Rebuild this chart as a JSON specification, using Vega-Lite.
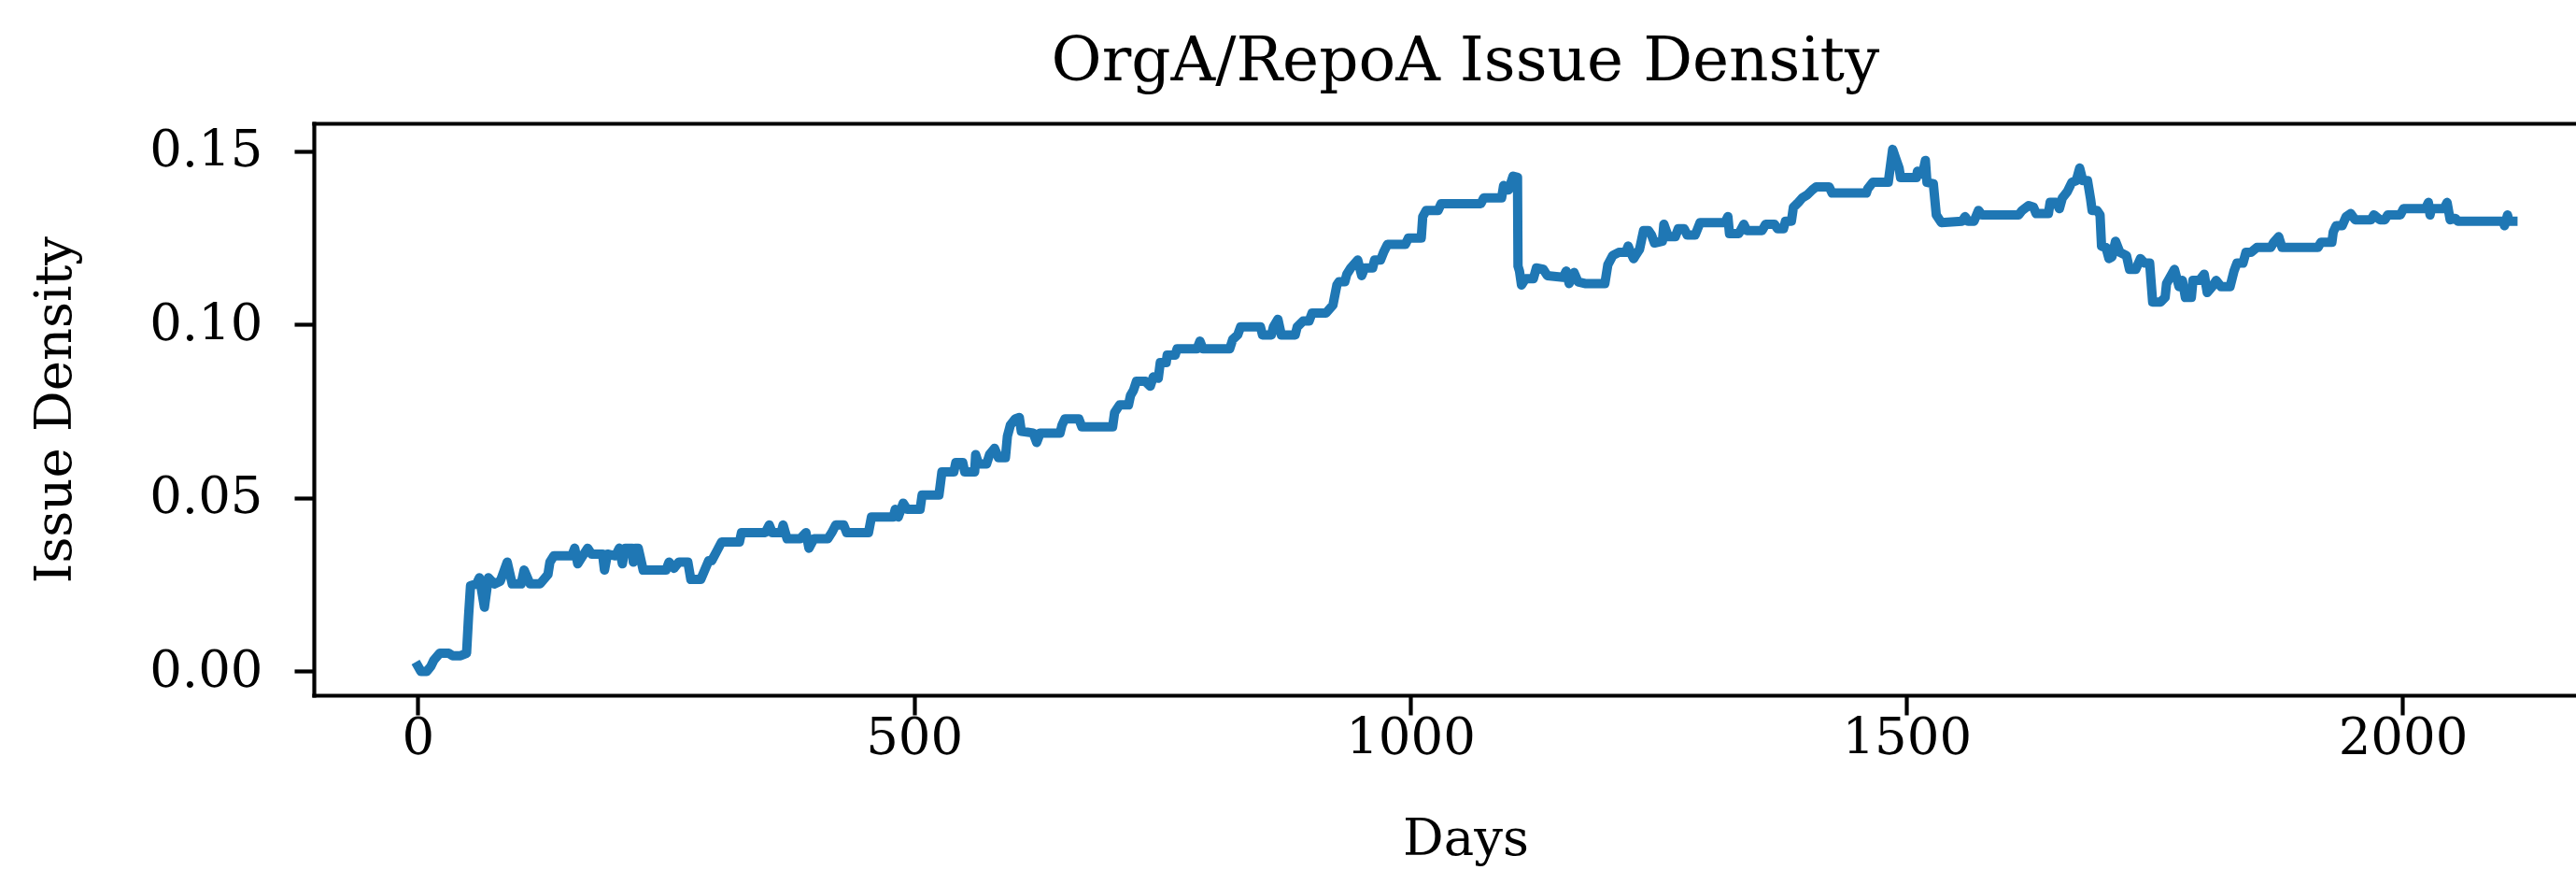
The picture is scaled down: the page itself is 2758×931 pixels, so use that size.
{
  "$schema": "https://vega.github.io/schema/vega-lite/v6.json",
  "autosize": "none",
  "padding": {"left": 336, "top": 132, "right": 0, "bottom": 187},
  "width": 2422,
  "height": 612,
  "background": "white",
  "config": {
    "view": {"stroke": null},
    "font": "DejaVu Serif",
    "axis": {"grid": false, "domainColor": "black", "tickColor": "black", "labelColor": "black", "titleColor": "black", "domainWidth": 4.2, "tickWidth": 4.2, "tickSize": 21, "labelFont": "DejaVu Serif", "titleFont": "DejaVu Serif", "labelFontSize": 54.5, "titleFontSize": 54.5, "titleFontWeight": "normal", "domainCap": "square"}
  },
  "title": {"text": "OrgA/RepoA Issue Density", "font": "DejaVu Serif", "fontSize": 66, "fontWeight": "normal", "color": "black", "anchor": "middle", "dx": 22, "dy": 62, "baseline": "alphabetic", "offset": 42},
  "datasets": {
    "density": [
      {"d":0,"v":0.0015},{"d":3,"v":0.0},{"d":9,"v":0.0},{"d":13,"v":0.0014},{"d":16,"v":0.0032},{"d":22,"v":0.0052},{"d":31,"v":0.0052},{"d":35,"v":0.0045},{"d":43,"v":0.0045},{"d":49,"v":0.0052},{"d":51,"v":0.0158},{"d":53,"v":0.0247},{"d":59,"v":0.0252},{"d":62,"v":0.027},{"d":67,"v":0.0185},{"d":71,"v":0.027},{"d":77,"v":0.0252},{"d":83,"v":0.026},{"d":90,"v":0.0315},{"d":95,"v":0.0252},{"d":104,"v":0.0252},{"d":107,"v":0.0292},{"d":113,"v":0.0252},{"d":123,"v":0.0252},{"d":131,"v":0.0279},{"d":133,"v":0.0315},{"d":137,"v":0.0333},{"d":155,"v":0.0333},{"d":158,"v":0.0355},{"d":161,"v":0.031},{"d":166,"v":0.0333},{"d":171,"v":0.0355},{"d":175,"v":0.0338},{"d":186,"v":0.0338},{"d":188,"v":0.0292},{"d":191,"v":0.0338},{"d":199,"v":0.0333},{"d":203,"v":0.0355},{"d":206,"v":0.031},{"d":209,"v":0.0355},{"d":216,"v":0.0355},{"d":217,"v":0.0315},{"d":219,"v":0.0355},{"d":222,"v":0.0355},{"d":227,"v":0.0292},{"d":250,"v":0.0292},{"d":253,"v":0.0315},{"d":258,"v":0.0297},{"d":263,"v":0.0315},{"d":272,"v":0.0315},{"d":275,"v":0.0265},{"d":285,"v":0.0265},{"d":289,"v":0.0292},{"d":293,"v":0.0319},{"d":296,"v":0.0319},{"d":300,"v":0.034},{"d":306,"v":0.0373},{"d":324,"v":0.0373},{"d":326,"v":0.04},{"d":350,"v":0.04},{"d":354,"v":0.0422},{"d":357,"v":0.04},{"d":366,"v":0.04},{"d":368,"v":0.0422},{"d":372,"v":0.0382},{"d":385,"v":0.0382},{"d":391,"v":0.04},{"d":394,"v":0.0355},{"d":399,"v":0.0382},{"d":413,"v":0.0382},{"d":417,"v":0.04},{"d":421,"v":0.0422},{"d":429,"v":0.0422},{"d":432,"v":0.04},{"d":454,"v":0.04},{"d":457,"v":0.0445},{"d":479,"v":0.0445},{"d":481,"v":0.0467},{"d":484,"v":0.0445},{"d":489,"v":0.0485},{"d":493,"v":0.0467},{"d":506,"v":0.0467},{"d":508,"v":0.0508},{"d":525,"v":0.0508},{"d":528,"v":0.0575},{"d":540,"v":0.0575},{"d":542,"v":0.0602},{"d":549,"v":0.0602},{"d":551,"v":0.0575},{"d":561,"v":0.0575},{"d":562,"v":0.0625},{"d":565,"v":0.0598},{"d":573,"v":0.0598},{"d":576,"v":0.0625},{"d":581,"v":0.0643},{"d":585,"v":0.0616},{"d":592,"v":0.0616},{"d":594,"v":0.0678},{"d":597,"v":0.071},{"d":602,"v":0.0728},{"d":606,"v":0.0732},{"d":608,"v":0.0692},{"d":620,"v":0.0687},{"d":623.5,"v":0.066},{"d":627,"v":0.0687},{"d":647,"v":0.0687},{"d":649,"v":0.071},{"d":652,"v":0.0728},{"d":666,"v":0.0728},{"d":669,"v":0.0705},{"d":700,"v":0.0705},{"d":702,"v":0.0746},{"d":707,"v":0.0768},{"d":716,"v":0.0768},{"d":718,"v":0.0795},{"d":721,"v":0.081},{"d":724,"v":0.0836},{"d":733,"v":0.0836},{"d":738,"v":0.0822},{"d":741,"v":0.0849},{"d":746,"v":0.0845},{"d":748,"v":0.089},{"d":754,"v":0.089},{"d":755,"v":0.0912},{"d":763,"v":0.0912},{"d":765,"v":0.093},{"d":785,"v":0.093},{"d":788,"v":0.0952},{"d":791,"v":0.093},{"d":818,"v":0.093},{"d":821,"v":0.0957},{"d":826,"v":0.097},{"d":829,"v":0.0993},{"d":849,"v":0.0993},{"d":851,"v":0.097},{"d":860,"v":0.097},{"d":862,"v":0.0993},{"d":866.6,"v":0.1015},{"d":870,"v":0.097},{"d":884,"v":0.097},{"d":886,"v":0.0993},{"d":892,"v":0.101},{"d":898,"v":0.101},{"d":901,"v":0.1033},{"d":915,"v":0.1033},{"d":922,"v":0.1056},{"d":926,"v":0.1114},{"d":928,"v":0.1123},{"d":934,"v":0.1123},{"d":936,"v":0.1145},{"d":940,"v":0.1163},{"d":947,"v":0.1186},{"d":951,"v":0.1141},{"d":954,"v":0.1163},{"d":962,"v":0.1163},{"d":964,"v":0.1186},{"d":970,"v":0.1186},{"d":973,"v":0.1208},{"d":977,"v":0.1231},{"d":995,"v":0.1231},{"d":998,"v":0.1249},{"d":1011,"v":0.1249},{"d":1012.5,"v":0.1311},{"d":1016,"v":0.1329},{"d":1028,"v":0.1329},{"d":1031,"v":0.1348},{"d":1071,"v":0.1348},{"d":1074,"v":0.1365},{"d":1092,"v":0.1365},{"d":1094,"v":0.1401},{"d":1099,"v":0.1388},{"d":1103.5,"v":0.1428},{"d":1108,"v":0.1424},{"d":1108.5,"v":0.1168},{"d":1110,"v":0.1154},{"d":1112,"v":0.1114},{"d":1116,"v":0.1132},{"d":1124,"v":0.1132},{"d":1127,"v":0.1163},{"d":1134,"v":0.1159},{"d":1138,"v":0.1141},{"d":1154,"v":0.1136},{"d":1157,"v":0.1154},{"d":1160,"v":0.1118},{"d":1165,"v":0.115},{"d":1169,"v":0.1123},{"d":1176,"v":0.1118},{"d":1196,"v":0.1118},{"d":1199,"v":0.1172},{"d":1204,"v":0.1199},{"d":1210,"v":0.1208},{"d":1217,"v":0.1208},{"d":1219.5,"v":0.1226},{"d":1222,"v":0.1208},{"d":1225,"v":0.119},{"d":1227,"v":0.1199},{"d":1231,"v":0.1217},{"d":1235,"v":0.1271},{"d":1240,"v":0.1271},{"d":1243,"v":0.1258},{"d":1246,"v":0.1235},{"d":1254,"v":0.124},{"d":1255.5,"v":0.1289},{"d":1260,"v":0.1253},{"d":1267,"v":0.1253},{"d":1270,"v":0.1276},{"d":1276,"v":0.1276},{"d":1279,"v":0.1258},{"d":1287,"v":0.1258},{"d":1292,"v":0.1294},{"d":1317,"v":0.1294},{"d":1320,"v":0.1311},{"d":1321.6,"v":0.1262},{"d":1331,"v":0.1262},{"d":1336,"v":0.1289},{"d":1339,"v":0.1271},{"d":1354.5,"v":0.1271},{"d":1358,"v":0.1289},{"d":1367,"v":0.1289},{"d":1370,"v":0.1276},{"d":1376,"v":0.1276},{"d":1378,"v":0.1298},{"d":1384,"v":0.1298},{"d":1386,"v":0.1338},{"d":1391,"v":0.1352},{"d":1395,"v":0.1365},{"d":1400,"v":0.1374},{"d":1405,"v":0.1388},{"d":1409,"v":0.1397},{"d":1422,"v":0.1397},{"d":1425,"v":0.1379},{"d":1459.5,"v":0.1379},{"d":1461,"v":0.1392},{"d":1466,"v":0.141},{"d":1481.6,"v":0.141},{"d":1486,"v":0.1505},{"d":1492.5,"v":0.1451},{"d":1494,"v":0.1424},{"d":1510,"v":0.1424},{"d":1511,"v":0.1442},{"d":1516,"v":0.1433},{"d":1519,"v":0.1473},{"d":1520.6,"v":0.141},{"d":1527,"v":0.1406},{"d":1530,"v":0.1316},{"d":1535,"v":0.1294},{"d":1556,"v":0.1298},{"d":1559,"v":0.1311},{"d":1562,"v":0.1298},{"d":1568,"v":0.1298},{"d":1572.5,"v":0.1329},{"d":1576,"v":0.1316},{"d":1613,"v":0.1316},{"d":1616.5,"v":0.1329},{"d":1623,"v":0.1343},{"d":1628,"v":0.1338},{"d":1630.6,"v":0.132},{"d":1643,"v":0.132},{"d":1644.7,"v":0.1352},{"d":1651,"v":0.1352},{"d":1654,"v":0.1334},{"d":1657,"v":0.1365},{"d":1662,"v":0.1383},{"d":1666.6,"v":0.141},{"d":1671,"v":0.1415},{"d":1674.5,"v":0.1451},{"d":1677.6,"v":0.1415},{"d":1682.4,"v":0.1415},{"d":1685.5,"v":0.1361},{"d":1687,"v":0.1329},{"d":1692,"v":0.1329},{"d":1695,"v":0.1316},{"d":1696.5,"v":0.1226},{"d":1701,"v":0.1222},{"d":1704,"v":0.119},{"d":1707,"v":0.1195},{"d":1710.6,"v":0.124},{"d":1715,"v":0.1208},{"d":1721.6,"v":0.1199},{"d":1724.7,"v":0.1159},{"d":1731,"v":0.1159},{"d":1735.7,"v":0.119},{"d":1740,"v":0.1177},{"d":1745,"v":0.1177},{"d":1748,"v":0.1065},{"d":1756,"v":0.1065},{"d":1760.6,"v":0.1078},{"d":1762,"v":0.1118},{"d":1770,"v":0.1159},{"d":1774.6,"v":0.1109},{"d":1778,"v":0.1127},{"d":1781,"v":0.1078},{"d":1787,"v":0.1078},{"d":1788.6,"v":0.1127},{"d":1795,"v":0.1127},{"d":1800,"v":0.1145},{"d":1803,"v":0.1092},{"d":1808,"v":0.1109},{"d":1812,"v":0.1127},{"d":1817,"v":0.1109},{"d":1826,"v":0.1109},{"d":1830,"v":0.1154},{"d":1833,"v":0.1177},{"d":1839,"v":0.1177},{"d":1842,"v":0.1208},{"d":1847,"v":0.1208},{"d":1853,"v":0.1222},{"d":1867,"v":0.1222},{"d":1870,"v":0.1237},{"d":1875,"v":0.1253},{"d":1878.4,"v":0.1222},{"d":1914.5,"v":0.1222},{"d":1917.6,"v":0.1237},{"d":1928.6,"v":0.1237},{"d":1930,"v":0.1267},{"d":1933,"v":0.1285},{"d":1939,"v":0.1285},{"d":1943,"v":0.1311},{"d":1947.5,"v":0.132},{"d":1952,"v":0.1302},{"d":1968,"v":0.1302},{"d":1971,"v":0.1316},{"d":1977,"v":0.1302},{"d":1982,"v":0.1302},{"d":1985,"v":0.1316},{"d":1997.6,"v":0.1316},{"d":2000.8,"v":0.1334},{"d":2022.9,"v":0.1334},{"d":2025.9,"v":0.1352},{"d":2027.5,"v":0.1316},{"d":2029,"v":0.1334},{"d":2041.6,"v":0.1334},{"d":2044.7,"v":0.1352},{"d":2047.8,"v":0.1302},{"d":2053,"v":0.1306},{"d":2055.5,"v":0.1298},{"d":2101,"v":0.1298},{"d":2102.6,"v":0.1285},{"d":2105.6,"v":0.1316},{"d":2107,"v":0.1298},{"d":2111,"v":0.1298}
    ]
  },
  "data": {"name": "density"},
  "layer": [
    {
      "mark": {"type": "line", "color": "#1f77b4", "strokeWidth": 10, "strokeJoin": "round", "strokeCap": "square", "clip": true},
      "encoding": {
        "x": {"field": "d", "type": "quantitative", "scale": {"domain": [-104.9, 2174.6], "nice": false, "zero": false},
              "axis": {"orient": "bottom", "values": [0, 500, 1000, 1500, 2000], "format": "d", "title": "Days", "labelPadding": -2, "titlePadding": 98, "titleBaseline": "alphabetic", "titleX": 1233}},
        "y": {"field": "v", "type": "quantitative", "scale": {"domain": [-0.0069, 0.158], "nice": false, "zero": false},
              "axis": {"orient": "left", "values": [0, 0.05, 0.1, 0.15], "format": ".2f", "title": "Issue Density", "labelPadding": 34, "titlePadding": 84, "titleBaseline": "alphabetic"}}
      }
    },
    {
      "mark": {"type": "line", "opacity": 0},
      "encoding": {
        "x": {"field": "d", "type": "quantitative", "axis": {"orient": "top", "labels": false, "ticks": false, "title": null, "domain": true}},
        "y": {"field": "v", "type": "quantitative", "axis": null}
      }
    }
  ],
  "resolve": {"axis": {"x": "independent", "y": "independent"}}
}
